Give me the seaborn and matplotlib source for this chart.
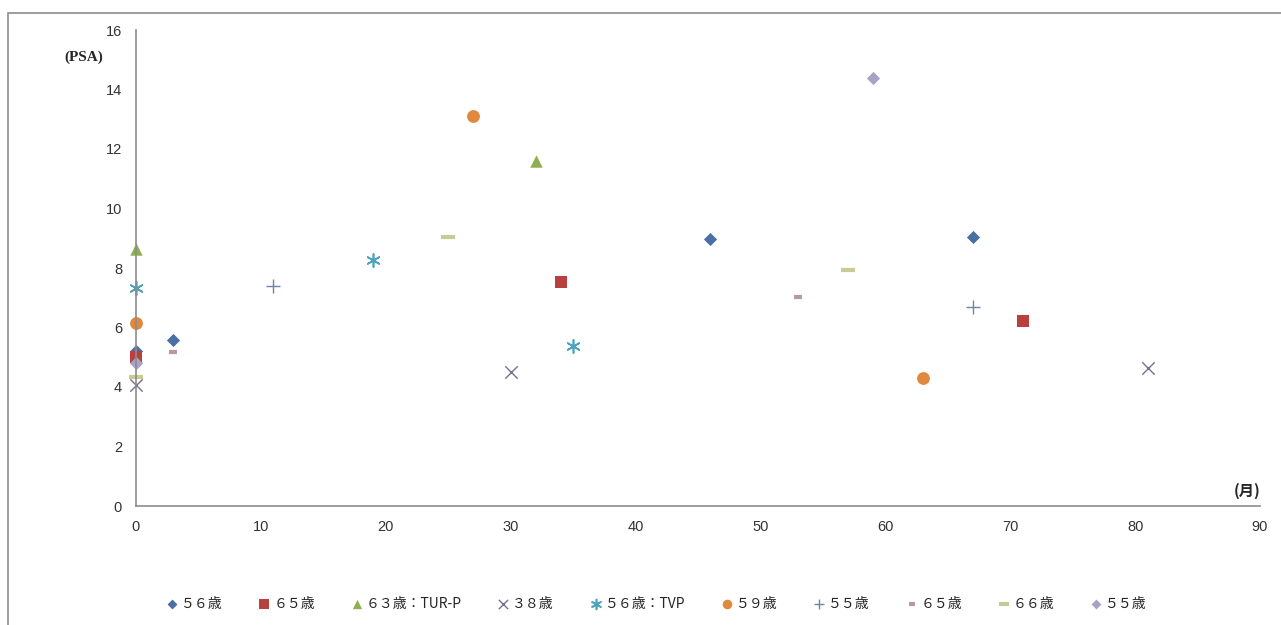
import numpy as np
import pandas as pd
import matplotlib
matplotlib.use("Agg")
import matplotlib.pyplot as plt
from matplotlib.patches import Rectangle
import seaborn as sns

sns.set_theme(style="white")
plt.rcParams["font.family"] = ["Noto Sans CJK JP", "DejaVu Sans"]

# Series labels (patient age / procedure)
labels = ["５６歳", "６５歳", "６３歳：TUR-P", "３８歳", "５６歳：TVP",
          "５９歳", "５５歳", "６５歳", "６６歳", "５５歳"]

# Months after treatment and PSA values, one pair of lists per patient
months_1 = [0, 3, 46, 67]
psa_1 = [5.2, 5.58, 8.97, 9.04]
months_2 = [0, 34, 71]
psa_2 = [5.0, 7.53, 6.22]
months_3 = [0, 32]
psa_3 = [8.64, 11.6]
months_4 = [0, 30, 81]
psa_4 = [4.07, 4.5, 4.64]
months_5 = [0, 19, 35]
psa_5 = [7.33, 8.27, 5.38]
months_6 = [0, 27, 63]
psa_6 = [6.15, 13.1, 4.3]
months_7 = [11, 67]
psa_7 = [7.4, 6.69]
months_8 = [3, 53]
psa_8 = [5.18, 7.03]
months_9 = [0, 25, 57]
psa_9 = [4.34, 9.04, 7.93]
months_10 = [0, 59]
psa_10 = [4.8, 14.4]

x_ticks = [0, 10, 20, 30, 40, 50, 60, 70, 80, 90]
y_ticks = [0, 2, 4, 6, 8, 10, 12, 14, 16]

months = [months_1, months_2, months_3, months_4, months_5,
          months_6, months_7, months_8, months_9, months_10]
psa = [psa_1, psa_2, psa_3, psa_4, psa_5, psa_6, psa_7, psa_8, psa_9, psa_10]

styles = [
    dict(marker="D", color="#4A6FA5", s=45, edge=0),
    dict(marker="s", color="#B8403E", s=80, edge=0),
    dict(marker="^", color="#8FB050", s=80, edge=0),
    dict(marker="x", color="#7A6E8E", s=80, edge=1.0),
    dict(marker=(6, 2, 0), color="#4BA3BE", s=90, edge=1.2),
    dict(marker="o", color="#E0883E", s=85, edge=0),
    dict(marker="+", color="#6F85A8", s=90, edge=1.0),
    dict(marker="_", color="#B89A9C", s=30, edge=3.0),
    dict(marker="_", color="#C9CB94", s=90, edge=3.0),
    dict(marker="D", color="#A7A2C6", s=45, edge=0),
]

fig = plt.figure(figsize=(12.81, 6.25), dpi=100)
ax = fig.add_axes([136 / 1281, 1 - 506 / 625, 1124 / 1281, 476 / 625])

for i, (lab, mx, py, st) in enumerate(zip(labels, months, psa, styles)):
    df = pd.DataFrame({"month": mx, "psa": py})
    kw = dict(marker=st["marker"], s=st["s"], color=st["color"], label=lab, ax=ax)
    kw["linewidth"] = st["edge"]
    sns.scatterplot(data=df, x="month", y="psa", **kw)

ax.set_xlim(0, 90)
ax.set_ylim(0, 16)
ax.set_xticks(x_ticks)
ax.set_yticks(y_ticks)
ax.set_xticklabels([str(v) for v in x_ticks], fontsize=10.5, color="#333333",
                   family="Liberation Sans")
ax.set_yticklabels([str(v) for v in y_ticks], fontsize=10.5, color="#333333",
                   family="Liberation Sans")
ax.set_xlabel("")
ax.set_ylabel("")
ax.tick_params(axis="both", length=0, pad=10)
for side in ["top", "right"]:
    ax.spines[side].set_visible(False)
for side in ["left", "bottom"]:
    ax.spines[side].set_color("#8C8C8C")
    ax.spines[side].set_linewidth(1.2)
for coll in ax.collections:
    coll.set_clip_on(False)

# Axis unit captions
ax.text(-4.2, 15.1, "(PSA)", fontsize=11, fontweight="bold", ha="center",
        va="center", family="Liberation Serif")
ax.text(89.0, 0.25, "(月)", fontsize=11, fontweight="bold", ha="center",
        va="bottom")

ax.legend(loc="center", bbox_to_anchor=(0.462, -0.205),
          ncol=10, frameon=False, fontsize=10, handletextpad=0.05,
          columnspacing=2.4, markerscale=0.75, handlelength=1.2)

# Chart area border
fig.patches.append(Rectangle((8 / 1281, -0.01), 1.0, 1 - 13 / 625 + 0.01,
                             transform=fig.transFigure, fill=False,
                             edgecolor="#8C8C8C", linewidth=1.2))

fig.savefig("out.png", dpi=100)
